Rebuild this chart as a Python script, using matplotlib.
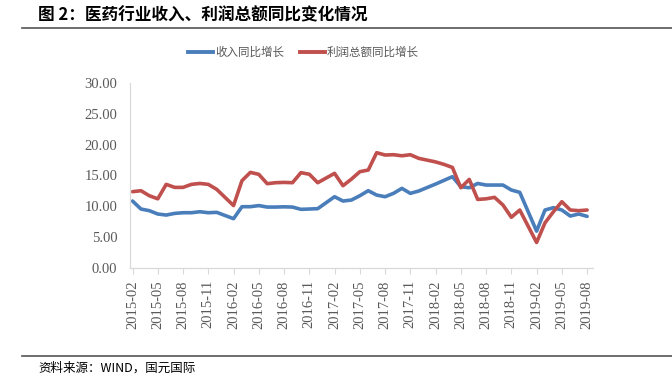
import matplotlib
matplotlib.use("Agg")
import matplotlib.pyplot as plt
import numpy as np

plt.rcParams['font.family'] = ['Noto Sans CJK SC', 'DejaVu Sans']

# months present in data (January figures are merged into February)
months = [
    "2015-02", "2015-03", "2015-04", "2015-05", "2015-06", "2015-07", "2015-08", "2015-09", "2015-10", "2015-11", "2015-12",
    "2016-02", "2016-03", "2016-04", "2016-05", "2016-06", "2016-07", "2016-08", "2016-09", "2016-10", "2016-11", "2016-12",
    "2017-02", "2017-03", "2017-04", "2017-05", "2017-06", "2017-07", "2017-08", "2017-09", "2017-10", "2017-11", "2017-12",
    "2018-02", "2018-03", "2018-04", "2018-05", "2018-06", "2018-07", "2018-08", "2018-09", "2018-10", "2018-11", "2018-12",
    "2019-02", "2019-03", "2019-04", "2019-05", "2019-06", "2019-07", "2019-08",
]
revenue = [
    10.84, 9.54, 9.27, 8.73, 8.56, 8.83, 8.94, 8.94, 9.10, 8.94, 9.00,
    7.97, 9.92, 9.92, 10.10, 9.86, 9.86, 9.90, 9.86, 9.49, 9.54, 9.60,
    11.54, 10.84, 11.00, 11.70, 12.52, 11.81, 11.54, 12.09, 12.90, 12.09, 12.47,
    13.60, 14.20, 14.80, 13.17, 13.00, 13.70, 13.44, 13.44, 13.44, 12.63, 12.25,
    5.95, 9.38, 9.76, 9.38, 8.40, 8.73, 8.35,
]
profit = [
    12.36, 12.52, 11.70, 11.20, 13.55, 13.06, 13.06, 13.55, 13.70, 13.55, 12.74,
    10.10, 14.15, 15.50, 15.18, 13.66, 13.82, 13.87, 13.82, 15.45, 15.20, 13.82,
    15.34, 13.33, 14.40, 15.61, 15.88, 18.70, 18.32, 18.37, 18.20, 18.37, 17.78,
    17.20, 16.80, 16.30, 13.00, 14.36, 11.10, 11.20, 11.44, 10.20, 8.20, 9.38,
    4.10, 7.30, 9.10, 10.73, 9.38, 9.27, 9.38,
]
tick_labels = [
    "2015-02", "2015-05", "2015-08", "2015-11", "2016-02", "2016-05", "2016-08", "2016-11",
    "2017-02", "2017-05", "2017-08", "2017-11", "2018-02", "2018-05", "2018-08", "2018-11",
    "2019-02", "2019-05", "2019-08",
]
yticks = [0, 5, 10, 15, 20, 25, 30]
series_names = ["收入同比增长", "利润总额同比增长"]


def month_index(s):
    y, m = s.split("-")
    return (int(y) - 2015) * 12 + int(m) - 2


x = np.array([month_index(m) for m in months])
tx = [month_index(t) for t in tick_labels]

W, H = 672, 379
fig = plt.figure(figsize=(W / 100, H / 100), dpi=100)

ax = fig.add_axes([130 / W, 1 - 267.7 / H, (593 - 130) / W, (267.7 - 83.2) / H])
blue = "#4A7EBB"
red = "#C0504D"
gray_txt = "#595959"
ax.plot(x, revenue, color=blue, lw=2.6, solid_joinstyle="round", solid_capstyle="round")
ax.plot(x, profit, color=red, lw=2.6, solid_joinstyle="round", solid_capstyle="round")

ax.set_xlim(-0.3, 54.7)
ax.set_ylim(0, 30)
ax.set_yticks(yticks)
ax.set_yticklabels([f"{v:.2f}" for v in yticks], family="Liberation Serif", fontsize=10.5, color=gray_txt)
ax.set_xticks(tx)
ax.set_xticklabels(tick_labels, rotation=90, family="Liberation Serif", fontsize=10.5, color=gray_txt)
ax.tick_params(axis="y", length=0, pad=9)
ax.tick_params(axis="x", length=4, width=0.8, color="#d9d9d9", pad=5)
for s in ["top", "right"]:
    ax.spines[s].set_visible(False)
for s in ["left", "bottom"]:
    ax.spines[s].set_color("#d9d9d9")
    ax.spines[s].set_linewidth(0.9)

# legend drawn manually in figure coordinates
ly = 1 - 52 / H
fig.add_artist(plt.Line2D([188 / W, 213 / W], [ly, ly], color=blue, lw=2.8, transform=fig.transFigure))
fig.text(215 / W, ly, series_names[0], fontsize=8.3, color=gray_txt, va="center", ha="left")
fig.add_artist(plt.Line2D([300 / W, 325 / W], [ly, ly], color=red, lw=2.8, transform=fig.transFigure))
fig.text(327 / W, ly, series_names[1], fontsize=8.3, color=gray_txt, va="center", ha="left")

# title and rules
fig.text(38 / W, 1 - 15 / H, "图 2：医药行业收入、利润总额同比变化情况", fontsize=12,
         fontweight="bold", color="#000000", va="center", ha="left")
fig.add_artist(plt.Line2D([22 / W, 1.0], [1 - 28 / H, 1 - 28 / H], color="#555555", lw=1.2, transform=fig.transFigure))
fig.add_artist(plt.Line2D([22 / W, 1.0], [1 - 355.5 / H, 1 - 355.5 / H], color="#555555", lw=1.2, transform=fig.transFigure))
fig.text(38 / W, 1 - 368 / H, "资料来源：WIND，国元国际", fontsize=9, style="italic",
         color="#000000", va="center", ha="left")

fig.savefig("out.png", dpi=100)
